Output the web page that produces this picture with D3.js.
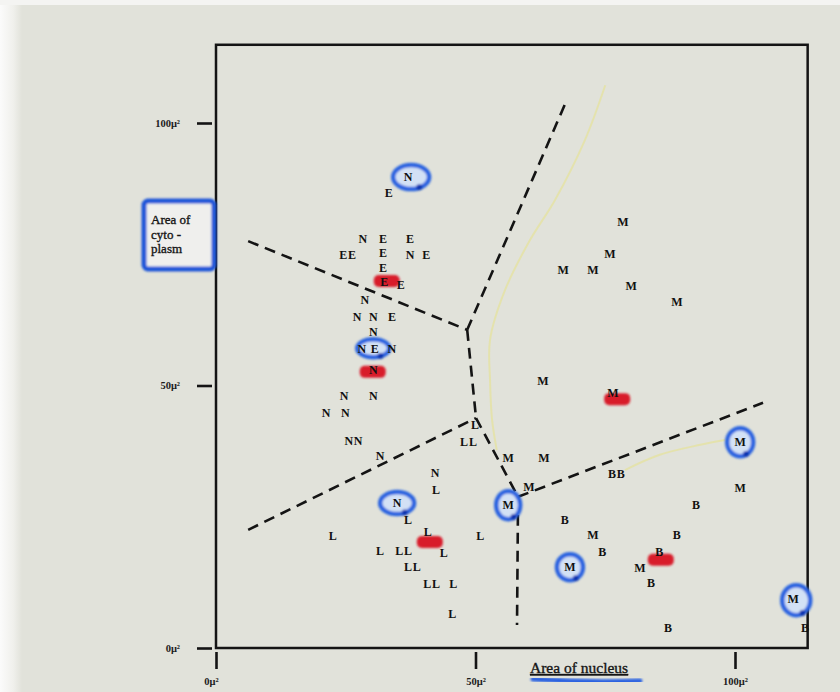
<!DOCTYPE html>
<html>
<head>
<meta charset="utf-8">
<script src="https://cdn.jsdelivr.net/npm/d3@7"></script>
<style>
  html, body { margin: 0; padding: 0; background: #e1e2da; }
  svg { display: block; }
</style>
</head>
<body>
<script>
// cells in µ² (area of nucleus, area of cytoplasm)
const cellsE = [[33.3,86.7],[32.2,77.9],[37.4,77.9],[24.5,74.9],[26.2,74.9],[32.2,75.2],[40.5,74.9],
  [32.2,72.5],[32.4,69.8],[35.6,69.1],[33.9,63.0],[30.6,57.0]];
const cellsN = [[37.0,89.7],[28.3,77.9],[37.4,74.9],[28.7,66.3],[27.2,63.0],[30.3,63.0],[30.3,60.2],
  [28.1,57.0],[33.9,57.0],[30.3,53.0],[24.7,48.0],[30.3,48.0],[21.2,44.8],[24.9,44.8],[25.6,39.4],
  [27.4,39.4],[31.6,36.6],[42.2,33.3],[34.9,27.6]];
const cellsL = [[49.9,42.5],[47.8,39.2],[49.5,39.2],[42.4,30.1],[37.0,24.4],[22.5,21.3],[40.8,22.1],
  [50.9,21.3],[31.6,18.5],[35.3,18.5],[37.0,18.5],[43.9,18.1],[37.0,15.4],[38.7,15.4],[40.7,12.2],
  [42.4,12.2],[45.7,12.2],[45.5,6.5]];
const cellsM = [[78.4,81.1],[75.9,75.0],[66.9,72.0],[72.6,72.0],[80.0,69.0],[88.8,65.9],[63.0,50.9],
  [76.5,48.6],[56.3,36.2],[63.2,36.2],[60.3,30.7],[56.3,27.2],[101.0,39.2],[101.0,30.5],[72.6,21.5],
  [68.2,15.4],[81.7,15.2],[111.2,9.3]];
const cellsB = [[76.3,33.1],[78.0,33.1],[92.5,27.2],[67.2,24.4],[88.8,21.5],[74.4,18.3],[85.4,18.3],
  [83.8,12.4],[87.1,3.8],[113.5,3.8]];

// dashed class boundaries
const boundaries = [
  [[6.2,77.5],[48.4,60.6]],
  [[48.4,60.6],[67.6,104.4]],
  [[48.4,60.6],[50.1,43.8]],
  [[6.2,22.5],[50.1,43.8]],
  [[50.1,43.8],[58.2,28.8]],
  [[58.2,28.8],[105.4,46.7]],
  [[58.2,28.8],[58.0,4.4]]
];

// hand annotations on the print
const blueRings = [[37.6,89.7,18,12],[30.3,57.1,16,9],[34.9,27.6,17,11],[56.3,27.2,12,14],
  [101.0,39.2,13,14],[68.2,15.4,13,13],[111.8,9.1,14,15]];
const redBars = [[32.9,69.9],[30.2,52.6],[41.2,20.2],[77.3,47.4],[85.7,16.8]];
const yellowTraces = [
  [[75.0,107.2],[71.1,96.8],[65.3,85.3],[60.5,77.7],[55.7,68.2],[52.8,58.7],[52.8,51.0],[53.2,43.4],[54.1,37.7]],
  [[78.8,33.9],[85.5,36.8],[93.3,38.7],[98.1,39.6]]
];

const xTicks = [0, 50, 100];
const yTicks = [0, 50, 100];
const yTitle = ["Area of", "cyto -", "plasm"];
const xTitle = "Area of nucleus";
const xMax = 114, yMax = 114.9;

const width = 840, height = 692;

const svg = d3.select("body").append("svg")
  .attr("width", width).attr("height", height)
  .attr("viewBox", [0, 0, width, height]);

const x = d3.scaleLinear().domain([0, 100]).range([216, 735]);
const y = d3.scaleLinear().domain([0, 100]).range([648, 123]);

// paper + light photo edges
const defs = svg.append("defs");
const edge = defs.append("linearGradient").attr("id", "edge");
edge.append("stop").attr("offset", 0).attr("stop-color", "#fbfbfb");
edge.append("stop").attr("offset", 0.6).attr("stop-color", "#f0f0ec");
edge.append("stop").attr("offset", 1).attr("stop-color", "#e1e2da");
defs.append("filter").attr("id", "soft")
  .append("feGaussianBlur").attr("stdDeviation", 0.9);

svg.append("rect").attr("width", width).attr("height", height).attr("fill", "#e1e2da");
svg.append("rect").attr("width", 22).attr("height", height).attr("fill", "url(#edge)");
svg.append("rect").attr("width", width).attr("height", 5).attr("fill", "#f4f4f2");

// faint yellow highlighter traces
const line = d3.line().x(d => x(d[0])).y(d => y(d[1])).curve(d3.curveCatmullRom);
svg.append("g").selectAll("path").data(yellowTraces).join("path")
  .attr("d", line)
  .attr("fill", "none")
  .attr("stroke", "#e6e29a")
  .attr("stroke-width", 2)
  .attr("opacity", 0.7);

// frame
svg.append("rect")
  .attr("x", x(0)).attr("y", y(yMax))
  .attr("width", x(xMax) - x(0)).attr("height", y(0) - y(yMax))
  .attr("fill", "none").attr("stroke", "#141414").attr("stroke-width", 2.5);

// axes
const yAxis = svg.append("g")
  .attr("transform", `translate(${x(0) - 4},0)`)
  .call(d3.axisLeft(y).tickValues(yTicks).tickSizeInner(15).tickSizeOuter(0)
    .tickPadding(17).tickFormat(d => d + "μ²"));
const xAxis = svg.append("g")
  .attr("transform", `translate(0,${y(0) + 4})`)
  .call(d3.axisBottom(x).tickValues(xTicks).tickSizeInner(17).tickSizeOuter(0)
    .tickPadding(9).tickFormat(d => d + "μ²"));
[yAxis, xAxis].forEach(g => {
  g.select(".domain").remove();
  g.selectAll(".tick line").attr("stroke", "#141414").attr("stroke-width", 2.6);
  g.selectAll(".tick text")
    .attr("fill", "#1c1c1c")
    .style("font-family", "'Liberation Serif', serif")
    .style("font-weight", "bold")
    .style("font-size", "10.5px");
});
xAxis.select(".tick text").attr("dx", -5);

// boundaries
svg.append("g").selectAll("line").data(boundaries).join("line")
  .attr("x1", d => x(d[0][0])).attr("y1", d => y(d[0][1]))
  .attr("x2", d => x(d[1][0])).attr("y2", d => y(d[1][1]))
  .attr("stroke", "#141414")
  .attr("stroke-width", 2.6)
  .attr("stroke-dasharray", "11 7");

// blue pen circles
const rings = svg.append("g").attr("filter", "url(#soft)");
rings.selectAll("ellipse").data(blueRings).join("ellipse")
  .attr("cx", d => x(d[0])).attr("cy", d => y(d[1]))
  .attr("rx", d => d[2]).attr("ry", d => d[3])
  .attr("fill", "#d3e1f5")
  .attr("stroke", "#2a64e0")
  .attr("stroke-width", 4.5);
rings.selectAll("circle").data(blueRings).join("circle")
  .attr("cx", d => x(d[0]) + d[2] * 0.45)
  .attr("cy", d => y(d[1]) + d[3] * 0.85)
  .attr("r", 3)
  .attr("fill", "#1034b0");

// red highlighter bars
svg.append("g").attr("filter", "url(#soft)")
  .selectAll("rect").data(redBars).join("rect")
  .attr("x", d => x(d[0]) - 13).attr("y", d => y(d[1]) - 6)
  .attr("width", 26).attr("height", 12).attr("rx", 5)
  .attr("fill", "#d81c2c");

// letters
const groups = [["E", cellsE], ["N", cellsN], ["L", cellsL], ["M", cellsM], ["B", cellsB]];
const letters = svg.append("g")
  .style("font-family", "'Liberation Serif', serif")
  .style("font-weight", "bold")
  .style("font-size", "12px")
  .attr("fill", "#111")
  .attr("text-anchor", "middle");
groups.forEach(([label, cells]) => {
  letters.append("g").selectAll("text").data(cells).join("text")
    .attr("x", d => x(d[0]))
    .attr("y", d => y(d[1]))
    .attr("dy", "0.35em")
    .text(label);
});

// y title in its blue box
svg.append("rect")
  .attr("x", 144).attr("y", 201).attr("width", 70).attr("height", 68).attr("rx", 4)
  .attr("fill", "#efefed").attr("stroke", "#1f55d8").attr("stroke-width", 5)
  .attr("filter", "url(#soft)");
svg.append("text")
  .attr("x", 151).attr("y", 224)
  .style("font-family", "'Liberation Serif', serif")
  .style("font-size", "13px")
  .attr("fill", "#151515")
  .attr("stroke", "#151515").attr("stroke-width", 0.35)
  .selectAll("tspan").data(yTitle).join("tspan")
  .attr("x", 151).attr("dy", (d, i) => i ? 14.5 : 0)
  .text(d => d);

// x title with blue underline
svg.append("path")
  .attr("d", "M533,679 Q585,683 640,681")
  .attr("fill", "none").attr("stroke", "#2a62e0").attr("stroke-width", 5)
  .attr("stroke-linecap", "round").attr("filter", "url(#soft)");
svg.append("text")
  .attr("x", 530).attr("y", 673)
  .style("font-family", "'Liberation Serif', serif")
  .style("font-size", "15.5px")
  .style("text-decoration", "underline")
  .attr("fill", "#151515")
  .attr("stroke", "#151515").attr("stroke-width", 0.35)
  .text(xTitle);
</script>
</body>
</html>
